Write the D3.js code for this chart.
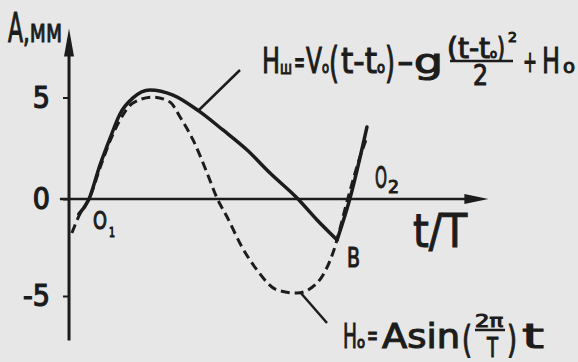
<!DOCTYPE html>
<html>
<head>
<meta charset="utf-8">
<script src="https://cdn.jsdelivr.net/npm/d3@7"></script>
<style>
  html, body { margin: 0; padding: 0; background: #e6e7e6; }
  text { font-family: "DejaVu Sans Condensed", "DejaVu Sans", sans-serif; font-weight: normal; fill: #1c1c1c; stroke: #1c1c1c; stroke-width: 1; }
</style>
</head>
<body>
<div id="chart"></div>
<script>
const width = 578, height = 362;

// values (t/T , A in mm)
const tSine = [-0.062, -0.031, 0.004, 0.05, 0.088, 0.123, 0.173, 0.25, 0.315, 0.354, 0.404, 0.458, 0.496,
               0.535, 0.592, 0.65, 0.727, 0.804, 0.881, 0.942, 1.0, 1.046, 1.073];
const aSine = [-1.75, -0.77, 0, 1.67, 2.96, 3.89, 4.73, 5.02, 4.78, 4.04, 2.91, 1.28, 0.05,
               -0.93, -2.47, -3.66, -4.69, -4.85, -4.33, -2.78, 0.05, 2.07, 3.05];

const tFlight = [-0.035, 0.004, 0.046, 0.085, 0.123, 0.173, 0.238, 0.327, 0.431, 0.519, 0.612, 0.7, 0.804, 0.881, 0.958];
const aFlight = [-0.77, 0, 1.67, 3.00, 4.19, 4.98, 5.37, 5.12, 4.29, 3.40, 2.41, 1.28, 0.05, -1.08, -2.11];

const tRise = [0.958, 1.008, 1.073];
const aRise = [-2.11, 0.05, 3.55];

const yTicks = [-5, 0, 5];
const yTickLabels = ["-5", "0", "5"];

const xExtent = [-0.108, 1.54];   // t/T
const yExtent = [-7.3, 8.4];      // A
const yAxisAt = -0.073;

const x = d3.scaleLinear().domain([0, 1]).range([88, 348]);
const y = d3.scaleLinear().domain([-5, 0, 5]).range([296, 199, 97.5]);

const svg = d3.select("#chart").append("svg")
    .attr("width", width)
    .attr("height", height);

svg.append("rect").attr("width", width).attr("height", height).attr("fill", "#e6e7e6");

const ink = "#1c1c1c";

// axes
svg.append("line")
    .attr("x1", x(xExtent[0])).attr("x2", x(xExtent[1]) - 10)
    .attr("y1", y(0)).attr("y2", y(0))
    .attr("stroke", ink).attr("stroke-width", 2.5);
svg.append("path")
    .attr("d", `M${x(xExtent[1])},${y(0)} L${x(xExtent[1]) - 24},${y(0) - 5} L${x(xExtent[1]) - 24},${y(0) + 5} Z`)
    .attr("fill", ink);

svg.append("line")
    .attr("x1", x(yAxisAt)).attr("x2", x(yAxisAt))
    .attr("y1", y(yExtent[0])).attr("y2", y(yExtent[1]) + 10)
    .attr("stroke", ink).attr("stroke-width", 3);
svg.append("path")
    .attr("d", `M${x(yAxisAt)},${y(yExtent[1])} L${x(yAxisAt) - 5},${y(yExtent[1]) + 28} L${x(yAxisAt) + 5},${y(yExtent[1]) + 28} Z`)
    .attr("fill", ink);

const yAxis = svg.append("g")
    .attr("transform", `translate(${x(yAxisAt)},0)`)
    .call(d3.axisLeft(y).tickValues(yTicks).tickFormat((d, i) => yTickLabels[i]).tickSize(6).tickPadding(13));
yAxis.select(".domain").remove();
yAxis.selectAll("line").attr("stroke", ink).attr("stroke-width", 2);
yAxis.selectAll("text").attr("font-size", 30).attr("fill", ink)
    .style("font-family", '"DejaVu Sans Condensed", sans-serif').style("font-weight", "normal")
    .style("stroke", ink).style("stroke-width", 1.2);

// curves
const line = d3.line().x(d => x(d[0])).y(d => y(d[1])).curve(d3.curveMonotoneX);

svg.append("path")
    .datum(d3.zip(tSine, aSine))
    .attr("d", line)
    .attr("fill", "none").attr("stroke", ink)
    .attr("stroke-width", 3).attr("stroke-dasharray", "9,5");

svg.append("path")
    .datum(d3.zip(tFlight, aFlight))
    .attr("d", line)
    .attr("fill", "none").attr("stroke", ink)
    .attr("stroke-width", 3.5).attr("stroke-linecap", "round");

svg.append("path")
    .datum(d3.zip(tRise, aRise))
    .attr("d", line)
    .attr("fill", "none").attr("stroke", ink)
    .attr("stroke-width", 3.5).attr("stroke-linecap", "round");

// leader lines
svg.append("line").attr("x1", 199).attr("y1", 110).attr("x2", 240).attr("y2", 70)
    .attr("stroke", ink).attr("stroke-width", 2.5);
svg.append("line").attr("x1", 300).attr("y1", 292).attr("x2", 327).attr("y2", 323)
    .attr("stroke", ink).attr("stroke-width", 2.5);

function txt(px, py, s, size, len) {
    const t = svg.append("text").attr("x", px).attr("y", py).attr("font-size", size).text(s);
    if (len) t.attr("textLength", len).attr("lengthAdjust", "spacingAndGlyphs");
    return t;
}

// axis titles
txt(8, 42, "A", 40, 15);
txt(23, 42, ",мм", 32, 39);
txt(413, 247, "t/T", 46, 54);

// point labels
txt(93, 229, "O", 24, 14);
txt(109, 237, "1", 14, 6);
txt(375, 188, "O", 30, 12);
txt(388, 193, "2", 18, 11);
txt(347, 267, "B", 26, 13);

// top formula
txt(262, 73, "H", 36, 18);
txt(280, 74, "ш", 18, 12);
txt(294, 72, "=", 30, 11);
txt(306, 73, "V", 36, 16);
txt(322, 73, "o", 16, 7);
txt(329, 78, "(", 42, 10);
txt(341, 73, "t-t", 36, 36);
txt(377, 73, "o", 16, 8);
txt(385, 78, ")", 42, 10);
txt(397, 73, "-g", 34, 46);
txt(447, 58, "(t-t", 28, 43);
txt(490, 58, "o", 12, 7);
txt(497, 58, ")", 28, 8);
txt(508, 42, "2", 14, 9);
svg.append("line").attr("x1", 450).attr("x2", 513).attr("y1", 61).attr("y2", 61)
    .attr("stroke", ink).attr("stroke-width", 2.5);
txt(473, 85, "2", 28, 15);
txt(523, 72, "+", 30, 14);
txt(542, 73, "H", 36, 18);
txt(563, 73, "o", 20, 12);

// bottom formula
txt(343, 348, "H", 34, 14);
txt(357, 348, "o", 16, 8);
txt(367, 345, "=", 28, 11);
txt(382, 348, "Asin", 34, 78);
txt(462, 352, "(", 38, 10);
txt(475, 327, "2π", 18, 28);
svg.append("line").attr("x1", 475).attr("x2", 505).attr("y1", 330).attr("y2", 330)
    .attr("stroke", ink).attr("stroke-width", 2.5);
txt(487, 357, "T", 26, 11);
txt(507, 352, ")", 38, 10);
txt(522, 348, "t", 34, 22);
</script>
</body>
</html>
